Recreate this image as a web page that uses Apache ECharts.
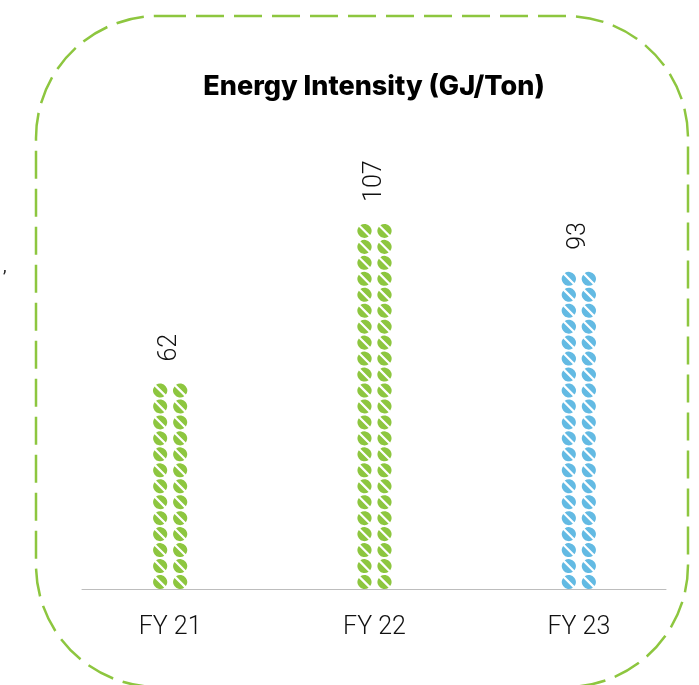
<!DOCTYPE html>
<html>
<head>
<meta charset="utf-8">
<script src="https://cdn.jsdelivr.net/npm/echarts@6/dist/echarts.min.js"></script>
<style>
  html, body { margin: 0; padding: 0; background: #ffffff; }
  #chart { width: 699px; height: 685px; }
</style>
</head>
<body>
<div id="chart"></div>
<script>
// Fiscal years and energy intensity in GJ per ton
const categories = ['FY 21', 'FY 22', 'FY 23'];
const intensity = [62, 107, 93];
const barColors = ['#8DC63F', '#8DC63F', '#63BAE3'];
const titleText = 'Energy Intensity (GJ/Ton)';

// Two round dots side by side, each split by a thin diagonal stripe
const dotPair = 'path://' +
  'M2.89 1.334A7 7 0 0 1 12.666 11.11Z' +
  'M11.11 12.666A7 7 0 0 1 1.334 2.89Z' +
  'M22.89 1.334A7 7 0 0 1 32.666 11.11Z' +
  'M31.11 12.666A7 7 0 0 1 21.334 2.89Z';

const labelFont = { fontFamily: 'Roboto', fontWeight: 300, color: '#111111' };

const chart = echarts.init(document.getElementById('chart'), null, { renderer: 'canvas' });

chart.setOption({
  backgroundColor: '#ffffff',
  animation: false,
  title: {
    text: titleText,
    left: 374,
    top: 73,
    padding: 0,
    textAlign: 'center',
    textStyle: { fontFamily: 'Inter', fontWeight: 800, fontSize: 27, color: '#000000' }
  },
  graphic: [
    {
      type: 'rect',
      shape: { x: 36, y: 16, width: 652, height: 671, r: 122 },
      style: { fill: 'none', stroke: '#8DC63F', lineWidth: 2.5, lineDash: [28, 10] },
      silent: true
    },
    {
      type: 'text',
      left: 3,
      top: 258,
      style: { text: ',', font: '18px Roboto', fill: '#222222' },
      silent: true
    }
  ],
  grid: [
    { left: 68, right: 18, top: 192, bottom: 96 },
    { left: 82, right: 33, top: 192, bottom: 96 }
  ],
  xAxis: [
    {
      type: 'category',
      gridIndex: 0,
      data: categories,
      axisLine: { show: false },
      axisTick: { show: false },
      axisLabel: Object.assign({ fontSize: 25, margin: 26 }, labelFont)
    },
    {
      type: 'category',
      gridIndex: 1,
      data: categories,
      axisLine: { show: true, lineStyle: { color: '#BDBDBD', width: 1 } },
      axisTick: { show: false },
      axisLabel: { show: false }
    }
  ],
  yAxis: [
    { type: 'value', gridIndex: 0, min: 0, max: 120, show: false },
    { type: 'value', gridIndex: 1, min: 0, max: 120, show: false }
  ],
  series: [
    {
      // white backing behind each column, it also breaks the baseline
      type: 'bar',
      xAxisIndex: 0,
      yAxisIndex: 0,
      data: intensity,
      barWidth: 46,
      itemStyle: { color: '#ffffff', borderColor: '#ffffff', borderWidth: 2 },
      silent: true,
      z: 1
    },
    {
      type: 'pictorialBar',
      xAxisIndex: 0,
      yAxisIndex: 0,
      data: intensity.map((v, i) => ({ value: v, itemStyle: { color: barColors[i] } })),
      symbol: dotPair,
      symbolSize: [34, 14],
      symbolRepeat: true,
      symbolMargin: 1,
      z: 3,
      label: Object.assign({
        show: true,
        position: 'top',
        rotate: 90,
        align: 'left',
        verticalAlign: 'middle',
        distance: 22,
        fontSize: 25
      }, labelFont)
    }
  ]
});
</script>
</body>
</html>
